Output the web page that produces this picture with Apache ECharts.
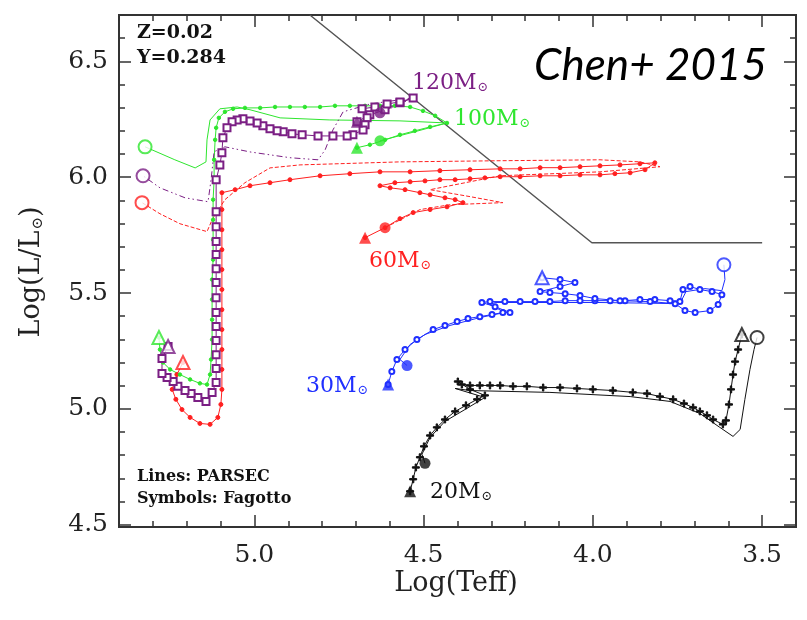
<!DOCTYPE html>
<html>
<head>
<meta charset="UTF-8">
<title>HR tracks</title>
<script src="https://cdn.jsdelivr.net/npm/echarts@6/dist/echarts.min.js"></script>
<style>
  body { margin: 0; background: #fff; }
  #main { width: 807px; height: 620px; }
</style>
</head>
<body>
<div id="main"></div>
<script>
// axis ticks
var xMajorTicks = [3.5, 4.0, 4.5, 5.0];
var xMinorTicks = [3.4, 3.5, 3.6, 3.7, 3.8, 3.9, 4.0, 4.1, 4.2, 4.3, 4.4, 4.5, 4.6, 4.7, 4.8, 4.9, 5.0, 5.1, 5.2, 5.3, 5.4];
var yMajorTicks = [4.5, 5.0, 5.5, 6.0, 6.5];
var yMinorTicks = [4.5, 4.6, 4.7, 4.8, 4.9, 5.0, 5.1, 5.2, 5.3, 5.4, 5.5, 5.6, 5.7, 5.8, 5.9, 6.0, 6.1, 6.2, 6.3, 6.4, 6.5, 6.6, 6.7];

// Humphreys-Davidson limit  [logTeff, logL]
var hdLimit = [[4.836, 6.7], [4.003, 5.717], [3.5, 5.717]];

// 120 Msun
var fag120 = [[4.697,6.239],[4.659,6.269],[4.614,6.291],[4.570,6.321],[4.531,6.342],[4.570,6.325],[4.608,6.316],[4.644,6.303],[4.682,6.295],[4.667,6.256],[4.673,6.226],[4.679,6.204],[4.709,6.183],[4.726,6.178],[4.768,6.178],[4.812,6.178],[4.859,6.183],[4.889,6.187],[4.915,6.196],[4.933,6.200],[4.954,6.209],[4.975,6.222],[4.992,6.234],[5.013,6.243],[5.034,6.252],[5.051,6.247],[5.066,6.239],[5.081,6.213],[5.093,6.170],[5.096,6.105],[5.102,6.053],[5.113,5.989],[5.113,5.851],[5.113,5.786],[5.113,5.722],[5.113,5.666],[5.113,5.605],[5.113,5.545],[5.113,5.480],[5.113,5.416],[5.113,5.355],[5.113,5.295],[5.113,5.234],[5.113,5.174],[5.113,5.114],[5.125,5.071],[5.143,5.032],[5.167,5.049],[5.187,5.066],[5.205,5.079],[5.226,5.097],[5.240,5.118],[5.258,5.135],[5.273,5.153],[5.273,5.217],[5.255,5.269]];
var par120 = [[4.629,6.278],[4.531,6.342],[4.658,6.316],[4.738,6.282],[4.768,6.204],[4.791,6.118],[4.812,6.075],[4.895,6.084],[5.013,6.109],[5.087,6.131],[5.119,6.110],[5.128,5.989],[5.137,5.894],[5.205,5.911],[5.279,5.954],[5.329,6.006]];

// 100 Msun
var fag100 = [[4.697,6.127],[4.659,6.140],[4.614,6.161],[4.570,6.183],[4.526,6.200],[4.481,6.217],[4.431,6.234],[4.466,6.265],[4.502,6.286],[4.540,6.303],[4.585,6.308],[4.629,6.308],[4.673,6.308],[4.718,6.308],[4.762,6.308],[4.806,6.303],[4.851,6.303],[4.895,6.303],[4.939,6.303],[4.983,6.299],[5.028,6.299],[5.063,6.295],[5.087,6.282],[5.105,6.256],[5.113,6.213],[5.116,6.161],[5.119,6.075],[5.119,5.989],[5.122,5.903],[5.122,5.816],[5.122,5.730],[5.122,5.644],[5.125,5.558],[5.125,5.472],[5.125,5.385],[5.125,5.299],[5.128,5.213],[5.131,5.148],[5.140,5.105],[5.161,5.110],[5.190,5.127],[5.220,5.148],[5.249,5.170],[5.270,5.200],[5.279,5.256],[5.282,5.308]];
var par100 = [[4.629,6.157],[4.526,6.196],[4.431,6.234],[4.570,6.243],[4.777,6.247],[4.924,6.256],[5.013,6.291],[5.051,6.303],[5.102,6.295],[5.131,6.247],[5.140,6.161],[5.143,6.066],[5.175,6.040],[5.235,6.075],[5.323,6.131]];

// 60 Msun
var fag60 = [[4.673,5.739],[4.614,5.782],[4.570,5.821],[4.531,5.847],[4.481,5.860],[4.431,5.872],[4.384,5.890],[4.407,5.903],[4.437,5.911],[4.481,5.924],[4.511,5.933],[4.555,5.946],[4.599,5.954],[4.629,5.963],[4.585,5.976],[4.540,5.980],[4.496,5.984],[4.452,5.989],[4.407,5.989],[4.363,5.993],[4.319,5.997],[4.274,6.002],[4.215,6.002],[4.156,6.006],[4.097,6.006],[4.038,6.010],[3.979,6.010],[3.935,6.015],[3.890,6.019],[3.846,6.032],[3.817,6.062],[3.861,6.058],[3.920,6.053],[3.979,6.049],[4.038,6.045],[4.097,6.041],[4.156,6.041],[4.215,6.036],[4.274,6.036],[4.363,6.032],[4.452,6.028],[4.540,6.023],[4.629,6.023],[4.718,6.015],[4.806,6.006],[4.895,5.989],[4.954,5.976],[5.013,5.963],[5.057,5.946],[5.096,5.933],[5.096,5.860],[5.096,5.773],[5.096,5.687],[5.096,5.601],[5.096,5.515],[5.096,5.428],[5.096,5.342],[5.096,5.256],[5.096,5.170],[5.096,5.084],[5.099,5.019],[5.108,4.963],[5.131,4.933],[5.161,4.937],[5.190,4.963],[5.214,4.997],[5.232,5.041],[5.243,5.084],[5.229,5.148],[5.211,5.200]];
var par60 = [[4.614,5.782],[4.511,5.860],[4.422,5.881],[4.266,5.890],[4.363,5.916],[4.481,5.946],[4.274,6.006],[3.979,6.023],[3.802,6.045],[3.861,6.066],[3.979,6.075],[4.274,6.071],[4.570,6.066],[4.865,6.053],[4.954,6.040],[5.028,5.976],[5.087,5.903],[5.125,5.816],[5.140,5.765],[5.220,5.799],[5.279,5.842],[5.332,5.890]];

// 30 Msun
var fag30 = [[4.605,5.105],[4.594,5.161],[4.579,5.213],[4.555,5.256],[4.520,5.299],[4.472,5.342],[4.437,5.360],[4.401,5.377],[4.369,5.390],[4.334,5.398],[4.298,5.407],[4.266,5.416],[4.245,5.416],[4.289,5.441],[4.328,5.459],[4.304,5.463],[4.260,5.463],[4.215,5.463],[4.171,5.463],[4.127,5.463],[4.082,5.467],[4.038,5.467],[3.994,5.467],[3.949,5.467],[3.905,5.467],[3.861,5.472],[3.817,5.472],[3.772,5.467],[3.743,5.463],[3.734,5.515],[3.713,5.528],[3.684,5.515],[3.648,5.506],[3.619,5.493],[3.630,5.450],[3.654,5.424],[3.698,5.416],[3.728,5.424],[3.757,5.454],[3.831,5.463],[3.920,5.467],[3.994,5.476],[4.038,5.489],[4.082,5.497],[4.127,5.502],[4.156,5.506],[4.097,5.528],[4.053,5.545],[4.097,5.558],[4.150,5.566]];
var par30 = [[4.549,5.187],[4.570,5.213],[4.540,5.278],[4.496,5.321],[4.422,5.360],[4.334,5.394],[4.260,5.416],[4.304,5.450],[4.289,5.459],[3.979,5.459],[3.743,5.454],[3.725,5.506],[3.669,5.519],[3.619,5.510],[3.610,5.558],[3.613,5.622]];

// 20 Msun
var fag20 = [[4.540,4.644],[4.531,4.696],[4.523,4.747],[4.511,4.791],[4.499,4.838],[4.481,4.885],[4.461,4.920],[4.437,4.954],[4.407,4.989],[4.375,5.015],[4.342,5.041],[4.319,5.058],[4.363,5.084],[4.399,5.118],[4.387,5.105],[4.363,5.101],[4.334,5.101],[4.304,5.101],[4.274,5.101],[4.236,5.097],[4.195,5.097],[4.147,5.092],[4.097,5.092],[4.047,5.088],[4.000,5.084],[3.941,5.079],[3.882,5.071],[3.840,5.066],[3.802,5.053],[3.763,5.041],[3.731,5.023],[3.704,5.006],[3.684,4.989],[3.663,4.972],[3.645,4.954],[3.616,4.933],[3.607,4.950],[3.598,5.019],[3.592,5.084],[3.586,5.148],[3.580,5.204],[3.571,5.256],[3.560,5.321]];
var par20 = [[4.496,4.765],[4.505,4.804],[4.481,4.877],[4.437,4.946],[4.378,4.997],[4.319,5.049],[4.407,5.088],[4.363,5.079],[4.127,5.071],[3.890,5.053],[3.772,5.032],[3.684,4.980],[3.625,4.920],[3.586,4.881],[3.565,4.911],[3.551,5.041],[3.536,5.170],[3.524,5.256],[3.515,5.308]];

var PURPLE = '#7b1f84', GREEN = '#2ee62e', RED = '#ff2020', BLUE = '#1f2fff', BLACK = '#111';
var plus = 'path://M4,0H6V4H10V6H6V10H4V6H0V4H4Z';

var myChart = echarts.init(document.getElementById('main'));

function track(fag, par, color, sym, symSize, dash) {
    var last = function (a) { return [a[a.length - 1]]; };
    return [
        { type: 'line', data: par, symbol: 'none', lineStyle: { color: color, width: 1, type: dash } },
        { type: 'line', data: fag, symbol: sym, symbolSize: symSize,
          itemStyle: { color: color, borderColor: color, borderWidth: 1 },
          lineStyle: { color: color, width: 1 } },
        { type: 'scatter', data: [par[0]], symbol: 'circle', symbolSize: 11, itemStyle: { color: color }, z: 5 },
        { type: 'scatter', data: last(par), symbol: 'emptyCircle', symbolSize: 13,
          itemStyle: { color: color, borderWidth: 1.3 }, z: 5 },
        { type: 'scatter', data: [fag[0]], symbol: 'triangle', symbolSize: 12, itemStyle: { color: color }, z: 5 },
        { type: 'scatter', data: last(fag), symbol: 'emptyTriangle', symbolSize: 13,
          itemStyle: { color: color, borderWidth: 1.3 }, z: 5 }
    ];
}

function xAx(pos, ticks, len, labels) {
    return { type: 'value', position: pos, min: 3.4, max: 5.4, inverse: true,
        axisLine: { show: true, onZero: false, lineStyle: { color: '#333', width: 2 } },
        axisTick: { show: true, inside: true, length: len, customValues: ticks, lineStyle: { color: '#333', width: 1.5 } },
        axisLabel: labels ? { show: true, customValues: xMajorTicks, margin: 16, color: '#222',
            fontFamily: 'DejaVu Serif', fontSize: 25, formatter: function (v) { return v.toFixed(1); } } : { show: false },
        splitLine: { show: false } };
}
function yAx(pos, ticks, len, labels) {
    return { type: 'value', position: pos, min: 4.49, max: 6.7,
        axisLine: { show: true, onZero: false, lineStyle: { color: '#333', width: 2 } },
        axisTick: { show: true, inside: true, length: len, customValues: ticks, lineStyle: { color: '#333', width: 1.5 } },
        axisLabel: labels ? { show: true, customValues: yMajorTicks, margin: 11, color: '#222',
            fontFamily: 'DejaVu Serif', fontSize: 25, formatter: function (v) { return v.toFixed(1); } } : { show: false },
        splitLine: { show: false } };
}

var sub = function (color, size) { return { fill: color, fontFamily: 'DejaVu Serif', fontSize: size, verticalAlign: 'bottom', padding: [6, 0, 0, 1] }; };
function massLabel(txt, color, x, y) {
    return { type: 'text', x: x, y: y, z: 100,
        style: { text: txt + '{s|⊙}', fill: color, font: '22px "DejaVu Serif"',
            rich: { s: sub(color, 13) } } };
}

var series = [{ type: 'line', data: hdLimit, symbol: 'none', lineStyle: { color: '#555', width: 1.5 }, z: 1 }]
    .concat(track(par60 === null ? [] : fag60, par60, RED, 'circle', 4, 'dashed'))
    .concat(track(fag30, par30, BLUE, 'emptyCircle', 5, 'solid'))
    .concat(track(fag20, par20, BLACK, plus, 7, 'solid'))
    .concat(track(fag100, par100, GREEN, 'circle', 3.5, 'solid'))
    .concat(track(fag120, par120, PURPLE, 'emptyRect', 7, [6, 3, 1.5, 3, 1.5, 3]));

var option = {
    animation: false,
    backgroundColor: '#fff',
    grid: { left: 119, right: 11, top: 15, bottom: 93 },
    xAxis: [xAx('bottom', xMajorTicks, 12, true), xAx('bottom', xMinorTicks, 6, false),
            xAx('top', xMajorTicks, 12, false), xAx('top', xMinorTicks, 6, false)],
    yAxis: [yAx('left', yMajorTicks, 12, true), yAx('left', yMinorTicks, 6, false),
            yAx('right', yMajorTicks, 12, false), yAx('right', yMinorTicks, 6, false)],
    series: series,
    graphic: [
        { type: 'text', x: 137, y: 24, z: 100, style: { text: 'Z=0.02', fill: '#111', font: 'bold 19px "DejaVu Serif"' } },
        { type: 'text', x: 137, y: 49, z: 100, style: { text: 'Y=0.284', fill: '#111', font: 'bold 19px "DejaVu Serif"' } },
        { type: 'text', x: 137, y: 469, z: 100, style: { text: 'Lines: PARSEC', fill: '#111', font: 'bold 16px "DejaVu Serif"' } },
        { type: 'text', x: 137, y: 491, z: 100, style: { text: 'Symbols: Fagotto', fill: '#111', font: 'bold 16px "DejaVu Serif"' } },
        { type: 'text', x: 534, y: 44, z: 100, style: { text: 'Chen+ 2015', fill: '#000', font: 'italic 44px Lato' } },
        massLabel('120M', PURPLE, 412, 72),
        massLabel('100M', GREEN, 454, 108),
        massLabel('60M', RED, 369, 250),
        massLabel('30M', BLUE, 306, 375),
        massLabel('20M', BLACK, 430, 481),
        { type: 'text', x: 456, y: 584, z: 100,
          style: { text: 'Log(Teff)', fill: '#222', font: '27px "DejaVu Serif"', align: 'center', verticalAlign: 'middle' } },
        { type: 'text', x: 32, y: 272, rotation: Math.PI / 2, z: 100,
          style: { text: 'Log(L/L{s|⊙})', fill: '#222', font: '27px "DejaVu Serif"', align: 'center', verticalAlign: 'middle',
                   rich: { s: sub('#222', 15) } } }
    ]
};
myChart.setOption(option);
</script>
</body>
</html>
